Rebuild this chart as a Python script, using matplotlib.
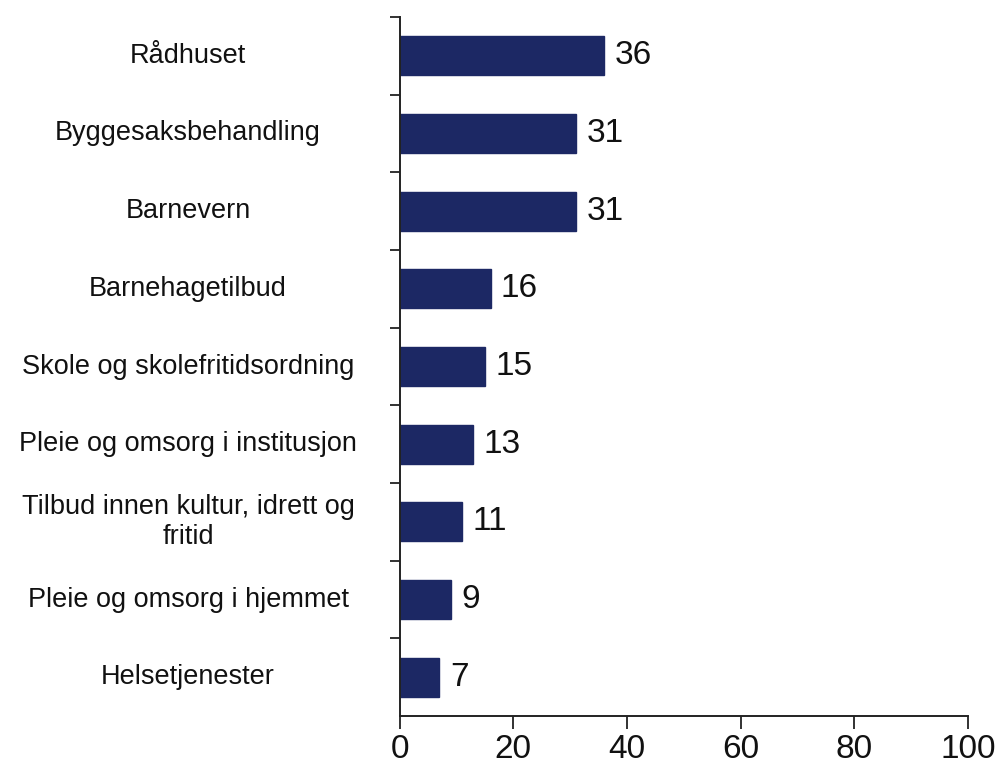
import matplotlib
matplotlib.use("Agg")
import matplotlib.pyplot as plt
from matplotlib.transforms import blended_transform_factory

categories = ["Rådhuset", "Byggesaksbehandling", "Barnevern", "Barnehagetilbud",
              "Skole og skolefritidsordning", "Pleie og omsorg i institusjon",
              "Tilbud innen kultur, idrett og\nfritid", "Pleie og omsorg i hjemmet",
              "Helsetjenester"]
values = [36, 31, 31, 16, 15, 13, 11, 9, 7]
xticks = [0, 20, 40, 60, 80, 100]

plt.rcParams['font.family'] = ['Liberation Sans', 'DejaVu Sans']

fig = plt.figure(figsize=(9.99, 7.70), dpi=100)
ax = fig.add_axes([0.400, 0.070, 0.569, 0.908])

n = len(categories)
ypos = list(range(n))
ax.barh(ypos, values, height=0.5, color='#1c2864', edgecolor='#1c2864')
ax.set_ylim(n - 0.5, -0.5)
ax.set_xlim(0, 100)

for y, v in zip(ypos, values):
    ax.annotate(str(v), xy=(v, y), xytext=(7.5, 0), textcoords='offset points',
                ha='left', va='center', fontsize=24, color='#111111')

ax.set_yticks([i + 0.5 for i in range(-1, n - 1)])
ax.set_yticklabels([])
ax.tick_params(axis='y', length=7, width=1.3, direction='out', color='#222222')

trans = blended_transform_factory(ax.transAxes, ax.transData)
for y, c in zip(ypos, categories):
    ax.text(-0.372, y, c, transform=trans, ha='center', va='center',
            multialignment='center', fontsize=19.5, color='#111111',
            linespacing=1.2)

ax.set_xticks(xticks)
ax.set_xticklabels([str(t) for t in xticks], fontsize=24, color='#111111')
ax.tick_params(axis='x', length=9, width=1.3, direction='out', pad=4, color='#222222')

for s in ['top', 'right']:
    ax.spines[s].set_visible(False)
for s in ['left', 'bottom']:
    ax.spines[s].set_linewidth(1.4)
    ax.spines[s].set_color('#222222')

fig.savefig('out.png', dpi=100)
